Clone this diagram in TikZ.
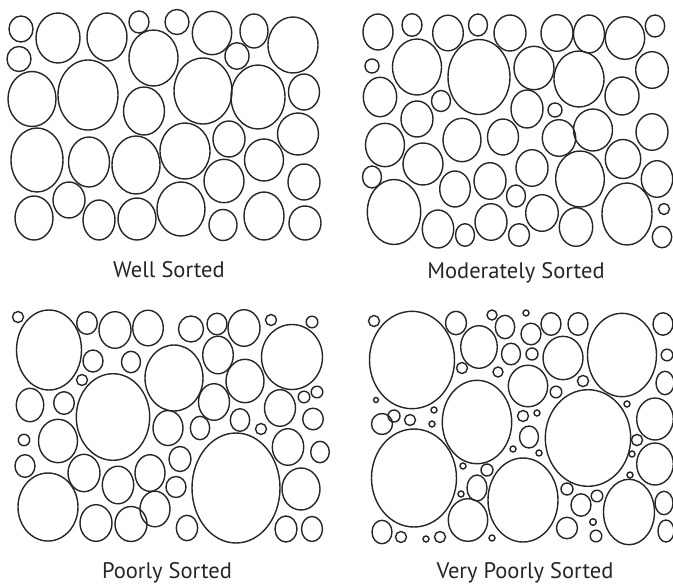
\documentclass[tikz,border=0pt]{standalone}
\usepackage{fontspec}
\setmainfont{PT Sans}

\begin{document}
\begin{tikzpicture}[x=1pt, y=-1pt,
	grain/.style={draw=black!85, line width=1.4pt},
	sortlabel/.style={anchor=base, text=black!85, font=\fontsize{22.5}{24}\selectfont}]

	\useasboundingbox (0,0) rectangle (673,587);

	% well sorted
	\foreach \x/\y/\a/\b in {21/29/12/13, 58/38/22/25, 107/37/20/24, 139/22/10/11, 177/22/12/12.5,
		19/59/12/12.5, 153.5/58/24.5/28, 32/99/24/27.5, 88/95/30/35, 144/111/20.5/24,
		37/160/26/32, 89/162/20.5/25, 136/165/24/29, 185/151/25/28, 212/33/19.7/21.7,
		237/56/12/13.3, 254/31/14/17, 293/45/25/28, 203/91/29/33, 258/97/27/32,
		304/92/15.5/18, 229/139/16/18, 264/160/19.5/21, 298/134/20.5/21, 224/181/20/21.7,
		304/182/16/18, 181/209/24/27, 223/225/14/15.5, 264/216/20/24, 305/223/16/17,
		34/218/19/22, 69/200/16/18, 99/220/16/20, 137/219/19/21}
		\draw[grain] (\x,\y) ellipse [x radius=\a pt, y radius=\b pt];

	% moderately sorted
	\foreach \x/\y/\a/\b in {378/32/15/18, 412/25/10/11.3, 448/33/15.3/17.8, 478/25/9.5/11, 510/33/16/18,
		372/66/7/7, 417/67/24.5/28, 479/77/31/37.5, 380/97/16.7/19.7, 441/101/9.5/10.5,
		417/119/16/18, 385/145/19.5/21.7, 462/140/19/21.7, 503/137/15.5/18, 423/164/20/21,
		372/177/9.5/11, 394/212/26.7/32.5, 455/189/15.3/18, 490/181/16/18.3, 438/229/15.7/19,
		465/235/9.5/11.3, 491/222/16/18.3, 516/196/9.5/11, 534/68/20/21.7, 527/109/16/19,
		532/168/16/18.3, 519/235/10.5/11.3, 557/33/16/18.3, 589/34/15.5/19, 625/38/19.7/21.3,
		655/26/9.7/11, 579/79/25/28, 652/70/16.3/18.3, 622/96/17/19, 555/110/7/7,
		559/138/16.7/18.3, 593/130/19.5/21, 652/132/16/18.3, 580/179/24.3/28, 623/159/17.7/19.5,
		657/179/15.7/18.3, 542/213/16.3/18.3, 576/227/16.7/19.3, 627/214/25/31, 664/209/5.5/5.5,
		662/237/9.7/10.7}
		\draw[grain] (\x,\y) ellipse [x radius=\a pt, y radius=\b pt];

	% poorly sorted
	\foreach \x/\y/\a/\b in {18/317/5.5/5.5, 49/350/32.5/40, 87/323/10.3/11.3, 115/330/16/18.3, 148/328/15.3/17.8,
		93/361/10/11, 131/362/9.5/10.7, 82/380/5.5/5.5, 30/405/13.7/16.7, 64/403/10.3/11.3,
		113/417/36.7/43.3, 24/440/5.7/5.7, 58/441/19.5/21.7, 25/466/10/11.3, 48/507/30/34,
		84/473/16/18.7, 118/485/15.7/18.8, 150/473/15/18.3, 96/523/16/18.3, 131/524/16/17.5,
		155/509/15/17.8, 174/378/29/33, 168/428/15/17.5, 191/329/12.5/13, 217/324/10/10.8,
		244/328/16/18.3, 271/320/5.5/5.5, 312/322/5.8/5.8, 218/355/15.3/18.8, 245/381/19/21.7,
		292/357/30.5/32.5, 214/402/15.5/18.3, 280/408/15.5/18.3, 304/397/5.8/5.8, 317/392/5.8/5.8,
		200/428/9.7/11.7, 240/420/9.7/11.3, 261/429/5.5/5.5, 313/419/10.3/10.8, 288/447/15.7/18.3,
		320/452/9.3/10.7, 180/459/11/12.5, 236/488/44/55, 176/487/10/10.5, 301/489/19/21,
		187/528/10.7/12.7, 286/529/11/13, 312/529/10.5/12.5}
		\draw[grain] (\x,\y) ellipse [x radius=\a pt, y radius=\b pt];

	% very poorly sorted
	\foreach \x/\y/\a/\b in {374/321/5.5/5.5, 412/360/42.5/48.7, 456/323/10.5/11.7, 492/315/5/5, 505/327/9.7/11.7,
		479/347/18.3/21.3, 511/354/9.5/10.8, 462/368/5.5/5.5, 498/372/5/5, 528/386/19.7/20.8,
		376/400/2.5/2.5, 382/424/10.5/10.5, 394/416/6/6, 410/420/5.5/5.5, 434/410/3/3,
		432/424/3/3, 477/422/34.7/41.7, 523/416/5.5/5.5, 513/449/3/3, 414/478/42.5/49,
		463/466/3/3, 487/470/6/6, 477/488/10/13, 461/494/3/3, 468/520/19.7/21.3,
		523/500/35/42, 382/532/10/11.7, 401/537/5.5/5.5, 426/539/3/3, 440/537/5.5/5.5,
		492/538/3/3, 526/313/3/3, 531/334/10/10.8, 551/324/10/11.3, 578/324/10/11.3,
		622/355/34.5/41.7, 663/324/10/11.2, 532/354/6/6, 563/358/20/21.7, 667/355/5.8/5.8,
		583/381/5.6/5.6, 556/392/5.8/5.8, 665/383/9/11.7, 627/404/3/3, 537/413/3/3,
		529/437/9.5/11, 588/438/42.7/48.3, 655/419/18.3/21, 637/440/5.6/5.6, 632/454/3/3,
		539/453/3/3, 655/464/18.3/21, 630/475/3/3, 567/489/6/6, 581/505/10/11.2,
		597/496/5.8/5.8, 567/528/10.5/10.7, 593/522/3.3/3.3, 596/536/5.8/5.8, 629/512/25.5/32.7,
		664/503/9/11.7, 666/531/8/11}
		\draw[grain] (\x,\y) ellipse [x radius=\a pt, y radius=\b pt];

	\node[sortlabel] (well) at (169,277) {Well Sorted};
	\node[sortlabel] (moderate) at (516,278) {Moderately Sorted};
	\node[sortlabel] (poor) at (167,578) {Poorly Sorted};
	\node[sortlabel] (verypoor) at (525,578) {Very Poorly Sorted};

\end{tikzpicture}
\end{document}
